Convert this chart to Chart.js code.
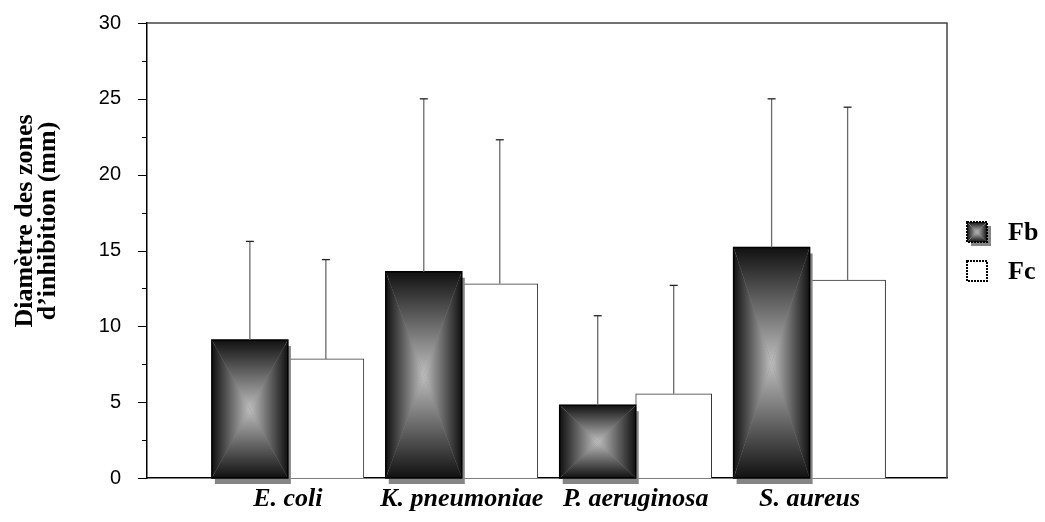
<!DOCTYPE html>
<html lang="fr">
<head>
    <meta charset="UTF-8">
    <title>Diamètre des zones d'inhibition</title>
    <script src="https://cdn.jsdelivr.net/npm/chart.js"></script>
    <style>
        html, body { margin: 0; padding: 0; background: #fff; }
        #wrap { width: 1045px; height: 522px; }
    </style>
</head>
<body>
    <div id="wrap"><canvas id="barChart"></canvas></div>

    <script>
        // Données
        const souches = ['E. coli', 'K. pneumoniae', 'P. aeruginosa', 'S. aureus'];
        const fbMoy = [9.1, 13.6, 4.8, 15.2];
        const fbEt  = [6.5, 11.4, 5.9, 9.8];
        const fcMoy = [7.85, 12.8, 5.55, 13.05];
        const fcEt  = [6.55, 9.5, 7.15, 11.4];
        const yTicks = [0, 5, 10, 15, 20, 25, 30];
        const titreY = ['Diamètre des zones', 'd\u2019inhibition (mm)'];
        const serieNoms = ['Fb', 'Fc'];

        // dégradé "rectangle depuis le centre" : 4 triangles
        function boxGradient(ctx, x0, y0, x1, y1) {
            const cx = (x0 + x1) / 2, cy = (y0 + y1) / 2;
            const dark = '#111111', light = '#bebebe';
            const tris = [
                [[x0, y0], [x1, y0], [x0, y0, x0, cy]],
                [[x1, y1], [x0, y1], [x0, y1, x0, cy]],
                [[x0, y1], [x0, y0], [x0, y0, cx, y0]],
                [[x1, y0], [x1, y1], [x1, y0, cx, y0]]
            ];
            tris.forEach(t => {
                const g = ctx.createLinearGradient(t[2][0], t[2][1], t[2][2], t[2][3]);
                g.addColorStop(0, dark);
                g.addColorStop(1, light);
                ctx.fillStyle = g;
                ctx.beginPath();
                ctx.moveTo(t[0][0], t[0][1]);
                ctx.lineTo(t[1][0], t[1][1]);
                ctx.lineTo(cx, cy);
                ctx.closePath();
                ctx.fill();
            });
        }

        const decor = {
            id: 'decor',
            afterDatasetsDraw(chart) {
                const ctx = chart.ctx;
                const a = chart.chartArea;
                const y = chart.scales.y;

                // barres Fb : ombre, dégradé, bord
                chart.getDatasetMeta(0).data.forEach(bar => {
                    const x0 = bar.x - bar.width / 2, x1 = bar.x + bar.width / 2;
                    const y0 = bar.y, y1 = bar.base;
                    ctx.save();
                    ctx.fillStyle = '#858585';
                    ctx.fillRect(x0 + 3, y0 + 6, x1 - x0, y1 - y0);
                    boxGradient(ctx, x0, y0, x1, y1);
                    ctx.strokeStyle = '#000';
                    ctx.lineWidth = 1.5;
                    ctx.strokeRect(x0, y0, x1 - x0, y1 - y0);
                    ctx.restore();
                });

                // barres d'erreur
                [[fbMoy, fbEt], [fcMoy, fcEt]].forEach((s, di) => {
                    chart.getDatasetMeta(di).data.forEach((bar, i) => {
                        const top = y.getPixelForValue(s[0][i] + s[1][i]);
                        ctx.save();
                        ctx.strokeStyle = '#6a6a6a';
                        ctx.lineWidth = 1.3;
                        ctx.beginPath();
                        ctx.moveTo(bar.x, bar.y);
                        ctx.lineTo(bar.x, top);
                        ctx.stroke();
                        ctx.strokeStyle = '#222';
                        ctx.beginPath();
                        ctx.moveTo(bar.x - 4, top);
                        ctx.lineTo(bar.x + 4, top);
                        ctx.stroke();
                        ctx.restore();
                    });
                });

                // cadre haut et droit
                ctx.save();
                ctx.strokeStyle = '#444';
                ctx.lineWidth = 1.5;
                ctx.beginPath();
                ctx.moveTo(a.left, a.top);
                ctx.lineTo(a.right, a.top);
                ctx.lineTo(a.right, a.bottom);
                ctx.stroke();

                // graduations de l'axe Y (majeures et mineures)
                ctx.strokeStyle = '#000';
                ctx.lineWidth = 1;
                y.ticks.forEach(t => {
                    const py = Math.round(y.getPixelForValue(t.value)) + 0.5;
                    const len = t.value % 5 === 0 ? 9 : 5;
                    ctx.beginPath();
                    ctx.moveTo(a.left - len, py);
                    ctx.lineTo(a.left, py);
                    ctx.stroke();
                });

                // titre de l'axe Y
                ctx.fillStyle = '#000';
                ctx.font = 'bold 26px "Liberation Serif"';
                ctx.textAlign = 'center';
                ctx.textBaseline = 'middle';
                titreY.forEach((ligne, k) => {
                    ctx.save();
                    ctx.translate(25 + k * 23, 221);
                    ctx.rotate(-Math.PI / 2);
                    ctx.fillText(ligne, 0, 0);
                    ctx.restore();
                });

                // légende
                const lx = 967, ly = [222, 261];
                ctx.fillStyle = '#858585';
                ctx.fillRect(lx + 4, ly[0] + 4, 20, 20);
                boxGradient(ctx, lx, ly[0], lx + 20, ly[0] + 20);
                ctx.fillStyle = '#fff';
                ctx.fillRect(lx, ly[1], 20, 20);
                ctx.setLineDash([2, 1]);
                ctx.lineWidth = 2;
                ctx.strokeStyle = '#000';
                ly.forEach(v => ctx.strokeRect(lx, v, 20, 20));
                ctx.setLineDash([]);
                ctx.fillStyle = '#000';
                ctx.font = 'bold 26px "Liberation Serif"';
                ctx.textAlign = 'left';
                serieNoms.forEach((n, k) => ctx.fillText(n, 1008, ly[k] + 11));
                ctx.restore();
            }
        };

        const ctx = document.getElementById('barChart').getContext('2d');
        new Chart(ctx, {
            type: 'bar',
            data: {
                datasets: [{
                    label: serieNoms[0],
                    data: souches.map((s, i) => ({ x: i, y: fbMoy[i] })),
                    backgroundColor: 'rgba(0,0,0,0)',
                    borderWidth: 0,
                    barThickness: 76
                }, {
                    label: serieNoms[1],
                    data: souches.map((s, i) => ({ x: i, y: fcMoy[i] })),
                    backgroundColor: '#ffffff',
                    borderColor: '#333',
                    borderWidth: 1,
                    barThickness: 76
                }]
            },
            options: {
                responsive: true,
                maintainAspectRatio: false,
                animation: false,
                layout: { padding: { left: 0, right: 98, top: 23, bottom: 10 } },
                plugins: {
                    legend: { display: false },
                    tooltip: { enabled: false }
                },
                scales: {
                    x: {
                        type: 'linear',
                        min: -0.81,
                        max: 3.79,
                        offset: false,
                        grid: { display: false, drawTicks: false },
                        border: { color: '#000', width: 1.5 },
                        afterBuildTicks: s => { s.ticks = souches.map((c, i) => ({ value: i })); },
                        afterFit: s => { s.height = 34; },
                        ticks: {
                            autoSkip: false,
                            maxRotation: 0,
                            padding: 6,
                            color: '#000',
                            font: { family: 'Liberation Serif', size: 26, weight: 'bold', style: 'italic' },
                            callback: v => souches[v] ?? ''
                        }
                    },
                    y: {
                        min: 0,
                        max: 30,
                        grid: { display: false },
                        border: { color: '#000', width: 1.5 },
                        afterFit: s => { s.width = 147; s.paddingTop = 0; s.paddingBottom = 0; },
                        ticks: {
                            stepSize: 2.5,
                            padding: 18,
                            color: '#000',
                            font: { family: 'Liberation Sans', size: 20 },
                            callback: v => yTicks.includes(v) ? v : ''
                        }
                    }
                }
            },
            plugins: [decor]
        });
    </script>
</body>
</html>
